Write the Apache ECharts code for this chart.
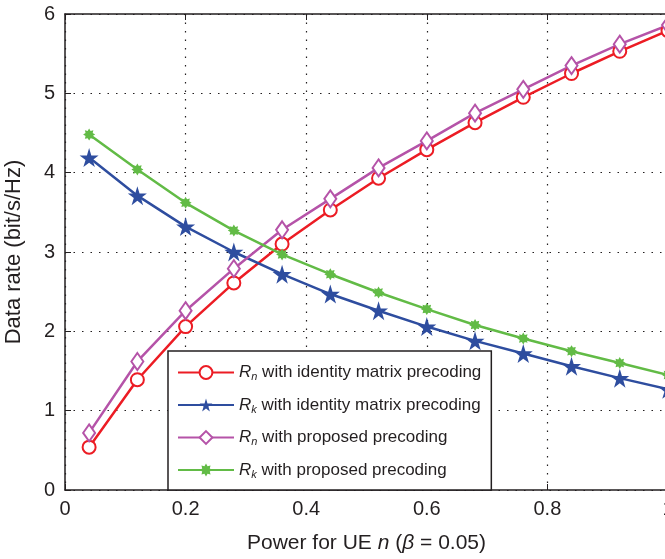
<!DOCTYPE html>
<html>
<head>
<meta charset="utf-8">
<script src="https://cdn.jsdelivr.net/npm/echarts@6/dist/echarts.min.js"></script>
<style>
  html, body { margin: 0; padding: 0; background: #fff; }
  #main { width: 665px; height: 559px; }
</style>
</head>
<body>
<div id="main"></div>
<script>
var power = [0.04, 0.12, 0.2, 0.28, 0.36, 0.44, 0.52, 0.6, 0.68, 0.76, 0.84, 0.92, 1.0];
var rnIdentity = [0.54, 1.39, 2.06, 2.61, 3.10, 3.53, 3.93, 4.29, 4.63, 4.95, 5.25, 5.53, 5.79];
var rkIdentity = [4.19, 3.71, 3.32, 3.00, 2.72, 2.47, 2.26, 2.06, 1.88, 1.72, 1.56, 1.41, 1.27];
var rnProposed = [0.72, 1.62, 2.26, 2.79, 3.28, 3.67, 4.06, 4.40, 4.75, 5.05, 5.35, 5.62, 5.86];
var rkProposed = [4.48, 4.04, 3.62, 3.27, 2.97, 2.72, 2.49, 2.28, 2.08, 1.91, 1.75, 1.60, 1.45];
var xTicks = [0, 0.2, 0.4, 0.6, 0.8, 1];
var yTicks = [0, 1, 2, 3, 4, 5, 6];

var names = ['Rn identity', 'Rk identity', 'Rn proposed', 'Rk proposed'];
var legendText = {
    'Rn identity': '{r|R}{sub|n} with identity matrix precoding',
    'Rk identity': '{r|R}{sub|k} with identity matrix precoding',
    'Rn proposed': '{r|R}{sub|n} with proposed precoding',
    'Rk proposed': '{r|R}{sub|k} with proposed precoding'
};

var starPath = 'path://M50,0 L61,35 L98,35 L68,57 L79,91 L50,70 L21,91 L32,57 L2,35 L39,35 Z';
var burstPath = 'path://M100,50 L79.6,62.2 L85.4,85.4 L62.2,79.6 L50,100 L37.8,79.6 L14.6,85.4 L20.4,62.2 L0,50 L20.4,37.8 L14.6,14.6 L37.8,20.4 L50,0 L62.2,20.4 L85.4,14.6 L79.6,37.8 Z';

function pairs(ys) {
    return power.map(function (x, i) { return [x, ys[i]]; });
}

var chart = echarts.init(document.getElementById('main'));
var font = 'Liberation Sans, Arial, Helvetica, sans-serif';
var ink = '#231f20';

var option = {
    animation: false,
    textStyle: { fontFamily: font },
    grid: { left: 65, top: 14, width: 603, height: 476, containLabel: false, outerBoundsMode: 'none' },
    legend: {
        data: names,
        orient: 'vertical',
        left: 168,
        top: 351,
        padding: [13, 10, 10, 9],
        itemGap: 14,
        itemWidth: 56,
        itemHeight: 16,
        backgroundColor: '#fff',
        borderColor: ink,
        borderWidth: 1.5,
        borderRadius: 0,
        formatter: function (n) { return legendText[n]; },
        textStyle: {
            color: ink,
            fontSize: 17,
            fontFamily: font,
            rich: {
                r: { fontStyle: 'italic', fontSize: 17, lineHeight: 20, fontFamily: font, color: ink },
                sub: { fontStyle: 'italic', fontSize: 11, lineHeight: 11, verticalAlign: 'bottom', fontFamily: font, color: ink }
            }
        }
    },
    xAxis: [{
        type: 'value',
        min: 0, max: 1, interval: 0.2,
        name: 'Power for UE {i|n} ({i|β} = 0.05)',
        nameLocation: 'middle',
        nameGap: 43,
        nameTextStyle: {
            fontSize: 21, color: ink, fontFamily: font,
            rich: { i: { fontStyle: 'italic', fontSize: 21, color: ink, fontFamily: font } }
        },
        axisLine: { lineStyle: { color: ink, width: 1.5 } },
        axisTick: { inside: true, length: 6, lineStyle: { color: ink } },
        axisLabel: { fontSize: 20, color: ink, margin: 9, fontFamily: font,
            formatter: function (v) { return xTicks.indexOf(v) >= 0 ? String(v) : ''; } },
        splitLine: { show: true, lineStyle: { type: [1.5, 7], color: ink, width: 1.2 } }
    }, {
        type: 'value',
        position: 'top',
        min: 0, max: 1, interval: 0.2,
        axisLine: { show: true, lineStyle: { color: ink, width: 1.5 } },
        axisTick: { show: true, inside: true, length: 6, lineStyle: { color: ink } },
        axisLabel: { show: false },
        splitLine: { show: false }
    }],
    yAxis: {
        type: 'value',
        min: 0, max: 6, interval: 1,
        name: 'Data rate (bit/s/Hz)',
        nameLocation: 'middle',
        nameGap: 40,
        nameTextStyle: { fontSize: 22, color: ink, fontFamily: font },
        axisLine: { show: true, lineStyle: { color: ink, width: 1.5 } },
        axisTick: { show: true, inside: true, length: 6, lineStyle: { color: ink } },
        axisLabel: { fontSize: 20, color: ink, margin: 10, fontFamily: font,
            formatter: function (v) { return yTicks.indexOf(v) >= 0 ? String(v) : ''; } },
        splitLine: { show: true, lineStyle: { type: [1.5, 7], color: ink, width: 1.2 } }
    },
    series: [
        {
            name: names[0], type: 'line', data: pairs(rnIdentity),
            symbol: 'emptyCircle', symbolSize: 13,
            itemStyle: { color: '#ec1c24', borderWidth: 2.5 },
            lineStyle: { color: '#ec1c24', width: 2.5 }
        },
        {
            name: names[1], type: 'line', data: pairs(rkIdentity),
            symbol: starPath, symbolSize: 19,
            itemStyle: { color: '#2e4d9f' },
            lineStyle: { color: '#2e4d9f', width: 2.5 }
        },
        {
            name: names[2], type: 'line', data: pairs(rnProposed),
            symbol: 'emptyDiamond', symbolSize: [12, 17],
            itemStyle: { color: '#b553a8', borderWidth: 2.5 },
            lineStyle: { color: '#b553a8', width: 2.5 }
        },
        {
            name: names[3], type: 'line', data: pairs(rkProposed),
            symbol: burstPath, symbolSize: 12,
            itemStyle: { color: '#62bb46' },
            lineStyle: { color: '#62bb46', width: 2.5 }
        }
    ]
};

chart.setOption(option);
</script>
</body>
</html>
